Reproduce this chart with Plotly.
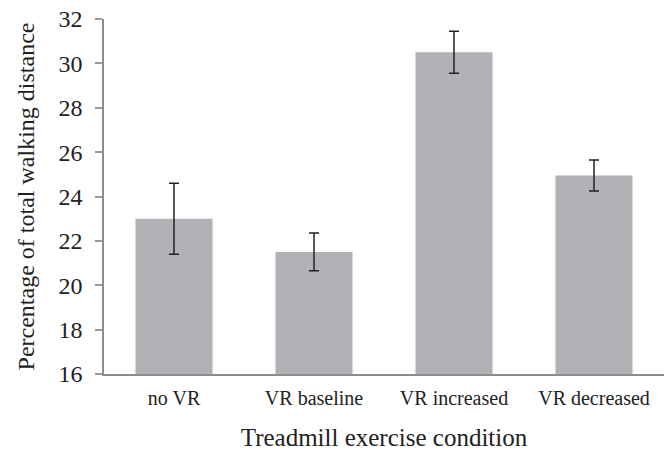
import plotly.graph_objects as go

categories = ["no VR", "VR baseline", "VR increased", "VR decreased"]
values = [23.0, 21.5, 30.5, 24.95]
err_plus = [1.6, 0.85, 0.95, 0.7]
err_minus = [1.6, 0.85, 0.95, 0.7]
y_ticks = [16, 18, 20, 22, 24, 26, 28, 30, 32]

font_family = "Liberation Serif, Times New Roman, serif"

fig = go.Figure(go.Bar(
    x=categories,
    y=values,
    marker=dict(color="#b1b2b6", line=dict(width=0)),
    error_y=dict(type="data", symmetric=False, array=err_plus, arrayminus=err_minus,
                 color="#222222", thickness=1.5, width=5),
))

fig.update_layout(
    width=667, height=451,
    margin=dict(l=104, r=3, t=19, b=77),
    plot_bgcolor="white", paper_bgcolor="white",
    bargap=0.45,
    showlegend=False,
    font=dict(family=font_family, color="#222222"),
)
fig.update_xaxes(
    showline=True, linecolor="#8c8c8c", linewidth=1.5,
    ticks="", tickfont=dict(size=20, family=font_family),
    ticklabelstandoff=5, automargin=False,
    title=dict(text="Treadmill exercise condition", font=dict(size=25, family=font_family), standoff=22),
)
fig.update_yaxes(
    range=[16, 32], tickvals=y_ticks,
    showline=True, linecolor="#8c8c8c", linewidth=1.5,
    ticks="outside", ticklen=7, tickcolor="#999999", tickwidth=1.5,
    showgrid=False, zeroline=False, automargin=False,
    ticklabeloverflow="allow", ticklabelstandoff=8,
    tickfont=dict(size=24, family=font_family),
    title=dict(text="Percentage of total walking distance", font=dict(size=24, family=font_family), standoff=17),
)

fig.write_html(
    "out.html",
    config={"displayModeBar": False},
    post_script="document.body.style.margin='0';document.body.style.overflow='hidden';",
)
